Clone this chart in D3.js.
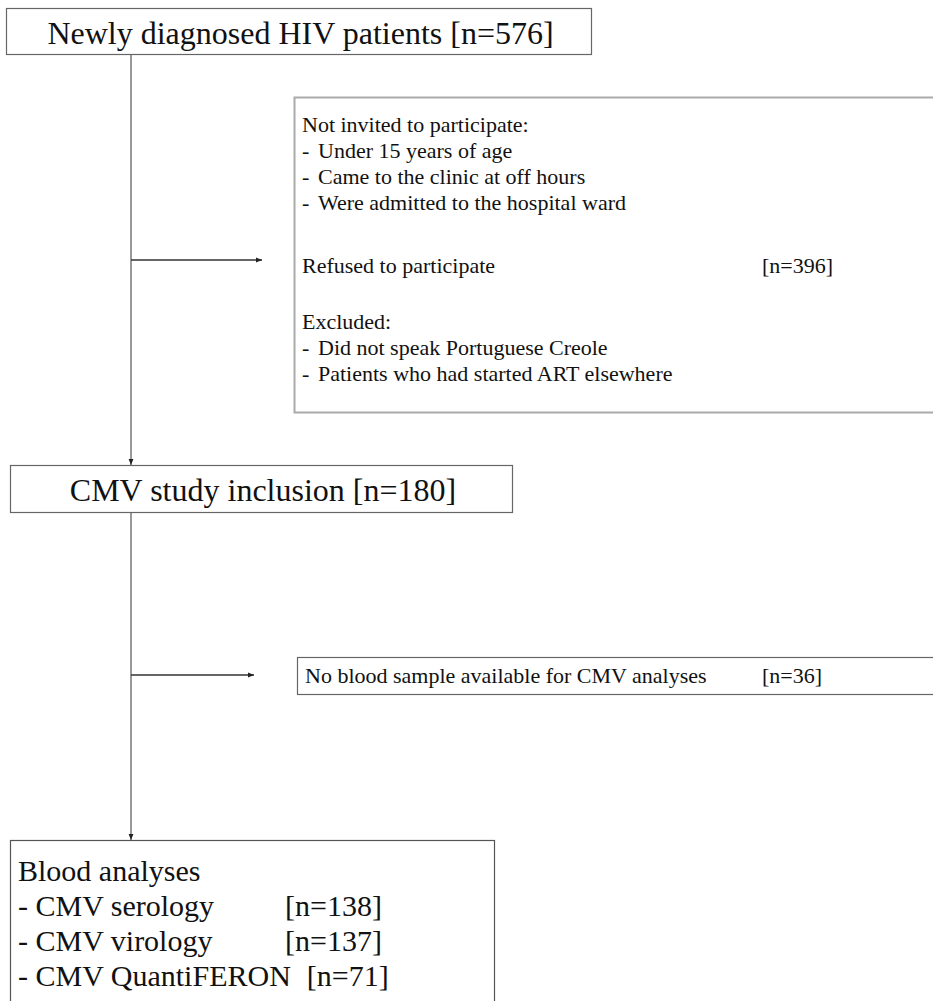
<!DOCTYPE html>
<html>
<head>
<meta charset="utf-8">
<script src="https://cdn.jsdelivr.net/npm/d3@7"></script>
<style>
  body { margin: 0; background: #fff; }
  svg text { font-family: "Liberation Serif", "DejaVu Serif", serif; fill: #111; }
</style>
</head>
<body>
<script>
//Width and height
var w = 933;
var h = 1001;

// flow data
var mainLabels = ["Newly diagnosed HIV patients", "CMV study inclusion"];
var mainCounts = [576, 180];

var notInvited = ["Under 15 years of age", "Came to the clinic at off hours", "Were admitted to the hospital ward"];
var excluded = ["Did not speak Portuguese Creole", "Patients who had started ART elsewhere"];
var refusedCount = 396;   // count shown for the whole first exclusion box
var noSampleCount = 36;

var analyses = ["CMV serology", "CMV virology", "CMV QuantiFERON"];
var analysesCounts = [138, 137, 71];

var serif = "'Liberation Serif', 'DejaVu Serif', serif";

var svg = d3.select("body")
    .append("svg")
    .attr("width", w)
    .attr("height", h)
    .attr("font-family", serif);

svg.append("defs").append("marker")
    .attr("id", "arrow")
    .attr("viewBox", "0 0 10 10")
    .attr("refX", 10)
    .attr("refY", 5)
    .attr("markerWidth", 6)
    .attr("markerHeight", 6)
    .attr("markerUnits", "userSpaceOnUse")
    .attr("orient", "auto")
    .append("path")
    .attr("d", "M0,1 L10,5 L0,9 z")
    .attr("fill", "#222");

var spineX = 131;

var box = function(x, y, bw, bh, col, sw) {
    svg.append("rect")
        .attr("x", x + 0.5)
        .attr("y", y + 0.5)
        .attr("width", bw)
        .attr("height", bh)
        .attr("fill", "none")
        .attr("stroke", col || "#666")
        .attr("stroke-width", sw || 1.2);
};

var arrow = function(x1, y1, x2, y2, col, sw) {
    svg.append("line")
        .attr("x1", x1).attr("y1", y1)
        .attr("x2", x2).attr("y2", y2)
        .attr("stroke", col || "#333")
        .attr("stroke-width", sw || 1.3)
        .attr("marker-end", "url(#arrow)");
};

// vertical spine
arrow(spineX, 54, spineX, 465, "#999", 2);
arrow(spineX, 512, spineX, 840, "#999", 2);

// side arrows
arrow(spineX, 260, 262, 260);
arrow(spineX, 675, 254, 675);

// main boxes
var mainBoxes = [{x: 6, y: 8, w: 585, h: 46}, {x: 10, y: 465, w: 502, h: 47}];
mainBoxes.forEach(function(b, i) {
    box(b.x, b.y, b.w, b.h, "#666", 1.2);
    svg.append("text")
        .attr("x", b.x + b.w / 2 + 2)
        .attr("y", b.y + 36)
        .attr("text-anchor", "middle")
        .attr("font-size", "32px")
        .text(mainLabels[i] + " [n=" + mainCounts[i] + "]");
});

// first exclusion box
box(294, 97, 660, 315, "#aaa", 2);
var side = svg.append("g").attr("font-size", "22px");
var sideY = d3.scaleLinear().domain([0, 1]).range([132, 158]);

side.append("text").attr("x", 302).attr("y", sideY(0)).text("Not invited to participate:");
side.selectAll(".ni")
    .data(notInvited)
    .enter()
    .append("g")
    .each(function(d, i) {
        var g = d3.select(this);
        g.append("text").attr("x", 302).attr("y", sideY(i + 1)).text("-");
        g.append("text").attr("x", 318).attr("y", sideY(i + 1)).text(d);
    });

side.append("text").attr("x", 302).attr("y", 273).text("Refused to participate");
side.append("text").attr("x", 762).attr("y", 273).text("[n=" + refusedCount + "]");

var exY = d3.scaleLinear().domain([0, 1]).range([329, 355]);
side.append("text").attr("x", 302).attr("y", exY(0)).text("Excluded:");
side.selectAll(".ex")
    .data(excluded)
    .enter()
    .append("g")
    .each(function(d, i) {
        var g = d3.select(this);
        g.append("text").attr("x", 302).attr("y", exY(i + 1)).text("-");
        g.append("text").attr("x", 318).attr("y", exY(i + 1)).text(d);
    });

// second exclusion box
box(297, 657, 660, 37, "#666", 1.2);
svg.append("text").attr("x", 305).attr("y", 683).attr("font-size", "22px")
    .text("No blood sample available for CMV analyses");
svg.append("text").attr("x", 762).attr("y", 683).attr("font-size", "22px")
    .text("[n=" + noSampleCount + "]");

// analyses box
box(10, 840, 484, 200, "#555", 1.2);
var anY = d3.scaleLinear().domain([0, 1]).range([881, 916]);
var an = svg.append("g").attr("font-size", "30px");
an.append("text").attr("x", 18).attr("y", anY(0)).text("Blood analyses");
an.selectAll(".an")
    .data(analyses)
    .enter()
    .append("g")
    .each(function(d, i) {
        var g = d3.select(this);
        var t = g.append("text").attr("x", 18).attr("y", anY(i + 1)).text("- " + d);
        var tw = t.node().getComputedTextLength();
        g.append("text")
            .attr("x", Math.max(285, 18 + tw + 16))
            .attr("y", anY(i + 1))
            .text("[n=" + analysesCounts[i] + "]");
    });
</script>
</body>
</html>
